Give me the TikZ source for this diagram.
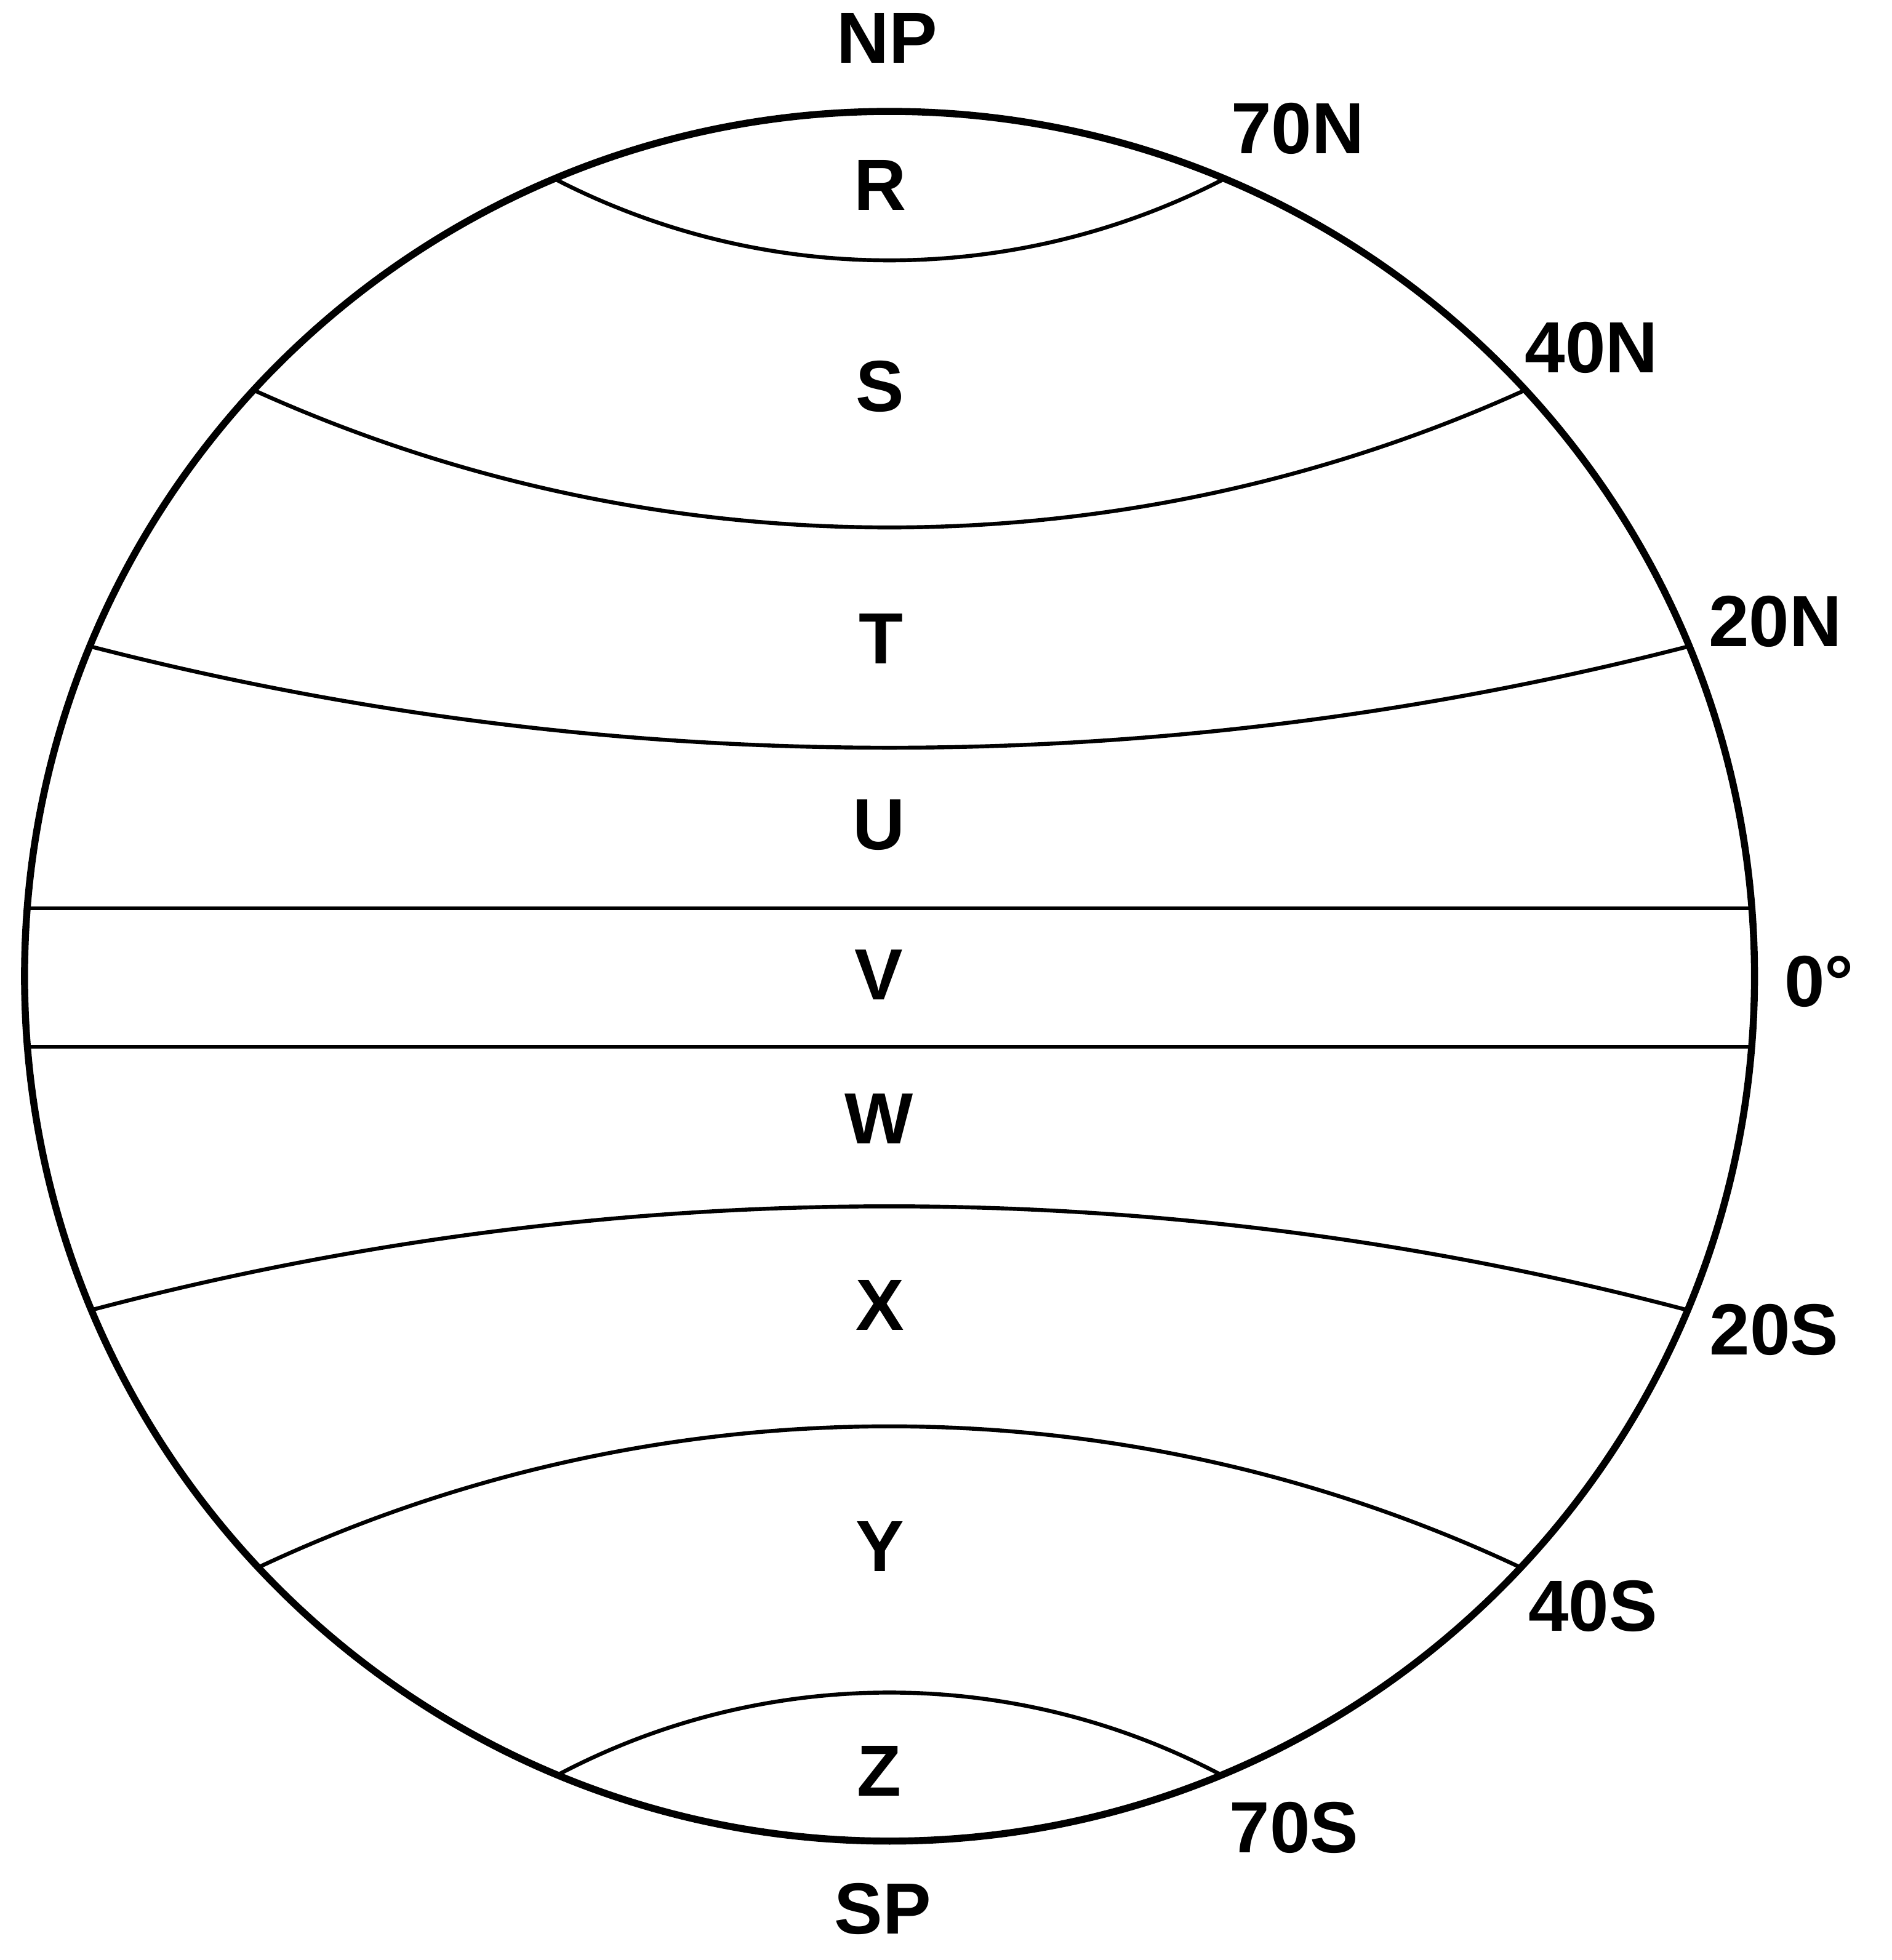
\documentclass[tikz,border=0pt]{standalone}
\usepackage{fontspec}
\setmainfont{Liberation Sans}
\begin{document}
\begin{tikzpicture}[x=0.02cm,y=-0.02cm,
  lbl/.style={font=\fontsize{33}{40}\selectfont\bfseries, inner sep=0pt, anchor=center},
  rim/.style={line width=3.2pt},
  band/.style={line width=1.8pt}]
\useasboundingbox (0,0) rectangle (1513,1568);
\coordinate (C) at (711.5,781);
% latitude line end points (on the rim)
\coordinate (n70L) at (443.5,143);
\coordinate (n40L) at (202.7,312);
\coordinate (n20L) at (71.8,517);
\coordinate (e1L) at (21.6,726.7);  \coordinate (e1R) at (1401.4,726.7);
\coordinate (e2L) at (21.8,837.5);  \coordinate (e2R) at (1401.2,837.5);
\coordinate (s20L) at (73.1,1048);
\coordinate (s40L) at (206.4,1254);
\coordinate (s70L) at (445.9,1420);

% northern curves (sagging)
\draw[band] (n70L) arc[start angle=242.61, end angle=297.39, radius=11.652cm];
\draw[band] (n40L) arc[start angle=245.60, end angle=294.40, radius=24.634cm];
\draw[band] (n20L) arc[start angle=255.53, end angle=284.47, radius=51.208cm];
% equator band
\draw[band] (e1L) -- (e1R);
\draw[band] (e2L) -- (e2R);
% southern curves (bulging)
\draw[band] (s20L) arc[start angle=104.815, end angle=75.185, radius=49.932cm];
\draw[band] (s40L) arc[start angle=115.22, end angle=64.78, radius=23.708cm];
\draw[band] (s70L) arc[start angle=117.91, end angle=62.09, radius=11.348cm];

\draw[rim] (C) circle [radius=13.84cm];

% zone letters
\node[lbl] (np) at (709.5,30.5) {NP};
\node[lbl] (zR) at (704,148) {R};
\node[lbl] (zS) at (704,309) {S};
\node[lbl] (zT) at (704.5,511) {T};
\node[lbl] (zU) at (703,660) {U};
\node[lbl] (zV) at (703,780) {V};
\node[lbl] (zW) at (703,895) {W};
\node[lbl] (zX) at (704,1044) {X};
\node[lbl] (zY) at (704,1237) {Y};
\node[lbl] (zZ) at (703,1417) {Z};
\node[lbl] (sp) at (706,1527) {SP};
% latitude labels
\node[lbl] (l70n) at (1038,103) {70N};
\node[lbl] (l40n) at (1273,278) {40N};
\node[lbl] (l20n) at (1420,497) {20N};
\node[lbl] (l0) at (1455,785) {0°};
\node[lbl] (l20s) at (1419,1064) {20S};
\node[lbl] (l40s) at (1274,1285) {40S};
\node[lbl] (l70s) at (1035,1462) {70S};
\end{tikzpicture}
\end{document}
